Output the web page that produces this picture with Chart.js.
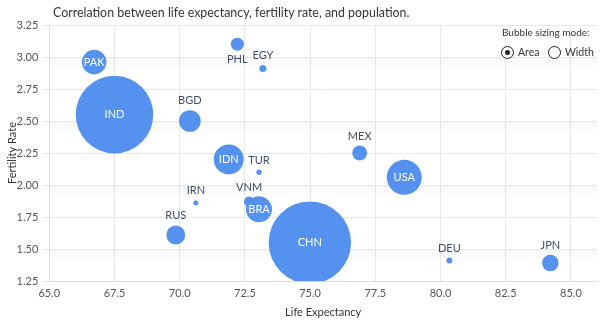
<!DOCTYPE html>
<html>
<head>
<meta charset="utf-8">
<script src="https://cdn.jsdelivr.net/npm/chart.js@4/dist/chart.umd.min.js"></script>
<style>
  html, body { margin: 0; padding: 0; background: #fff; }
  #wrap { position: relative; width: 604px; height: 324px; font-family: Lato, 'Noto Sans', sans-serif; color: #333; }
  #chart { position: absolute; left: 0; top: 0; }
  #title { position: absolute; left: 53px; top: 5px; font-size: 12.4px; white-space: nowrap; }
  #mode-caption { position: absolute; left: 502px; top: 26px; font-size: 10px; white-space: nowrap; }
  .opt { position: absolute; top: 45px; font-size: 10.5px; line-height: 15px; cursor: pointer; white-space: nowrap; }
  .opt .dot { display: inline-block; box-sizing: border-box; width: 13px; height: 13px; border: 1.5px solid #222;
              border-radius: 50%; vertical-align: -3px; margin-right: 4px; position: relative; background: #fff; }
  .opt.on .dot::after { content: ''; position: absolute; left: 2.5px; top: 2.5px; width: 5px; height: 5px;
                        border-radius: 50%; background: #222; }
  #opt-area { left: 501px; }
  #opt-width { left: 548px; }
</style>
</head>
<body>
<div id="wrap">
  <canvas id="chart" width="604" height="324"></canvas>
  <div id="title">Correlation between life expectancy, fertility rate, and population.</div>
  <div id="mode-caption">Bubble sizing mode:</div>
  <label class="opt on" id="opt-area" data-mode="area"><span class="dot"></span>Area</label>
  <label class="opt" id="opt-width" data-mode="width"><span class="dot"></span>Width</label>
</div>
<script>
// country codes, life expectancy (years), fertility rate (births per woman), population (millions)
const countries = ['PAK', 'IND', 'BGD', 'PHL', 'EGY', 'IDN', 'TUR', 'MEX', 'USA', 'IRN', 'VNM', 'BRA', 'RUS', 'CHN', 'DEU', 'JPN'];
const lifeExpectancy = [66.72, 67.5, 70.39, 72.21, 73.19, 71.88, 73.04, 76.9, 78.61, 70.62, 72.66, 73.04, 69.85, 74.99, 80.34, 84.21];
const fertilityRate = [2.96, 2.55, 2.5, 3.1, 2.91, 2.2, 2.1, 2.25, 2.06, 1.86, 1.87, 1.81, 1.61, 1.55, 1.41, 1.39];
const population = [192, 1240, 166, 108, 85, 249, 80.5, 118, 312, 80, 95, 206, 145, 1390, 82, 128];

// axis ranges
const xMin = 65, xMax = 86, xStep = 2.5;
const yMin = 1.25, yMax = 3.25, yStep = 0.25;
const shadedLines = [3.0, 2.5, 2.0, 1.5];

const minRadius = 2.5;
const maxRadius = 41.2;
const bubbleColor = '#5591ef';
const fontFamily = 'Lato';
let sizeMode = 'area';

function bubbleRadius(p) {
  const pMin = Math.min(...population);
  const pMax = Math.max(...population);
  const t = (p - pMin) / (pMax - pMin);
  if (sizeMode === 'area') {
    return Math.sqrt(minRadius * minRadius + t * (maxRadius * maxRadius - minRadius * minRadius));
  }
  return minRadius + t * (maxRadius - minRadius);
}

function buildPoints() {
  return countries.map((c, i) => ({
    x: lifeExpectancy[i],
    y: fertilityRate[i],
    r: bubbleRadius(population[i])
  }));
}

// soft shading under every other horizontal grid line
const gridShade = {
  id: 'gridShade',
  beforeDatasetsDraw(chart) {
    const { ctx, chartArea: a, scales: { y } } = chart;
    ctx.save();
    shadedLines.forEach(v => {
      const py = y.getPixelForValue(v);
      const g = ctx.createLinearGradient(0, py, 0, py + 12);
      g.addColorStop(0, 'rgba(0,0,0,0.035)');
      g.addColorStop(1, 'rgba(0,0,0,0)');
      ctx.fillStyle = g;
      ctx.fillRect(a.left, py + 1, a.right - a.left, 12);
    });
    ctx.restore();
  }
};

// country codes: inside big bubbles, above (or below near the top) small ones
const bubbleLabels = {
  id: 'bubbleLabels',
  afterDatasetsDraw(chart) {
    const ctx = chart.ctx;
    const top = chart.chartArea.top;
    const meta = chart.getDatasetMeta(0);
    ctx.save();
    ctx.font = '11px ' + fontFamily;
    ctx.textAlign = 'center';
    ctx.textBaseline = 'middle';
    meta.data.forEach((el, i) => {
      const r = el.options.radius;
      if (r >= 12) {
        ctx.fillStyle = '#ffffff';
        ctx.fillText(countries[i], el.x, el.y);
      } else {
        let ly = el.y - r - 9.5;
        if (ly - 6 < top) ly = el.y + r + 9;
        ctx.fillStyle = '#3f4c6b';
        ctx.fillText(countries[i], el.x, ly);
      }
    });
    ctx.restore();
  }
};

const chart = new Chart(document.getElementById('chart'), {
  type: 'bubble',
  data: {
    datasets: [{
      label: 'Countries',
      data: buildPoints(),
      backgroundColor: bubbleColor,
      borderWidth: 0,
      hoverBorderWidth: 0,
      clip: 0
    }]
  },
  options: {
    responsive: false,
    animation: false,
    layout: { autoPadding: false, padding: { top: 25, right: 7, left: 0, bottom: 0 } },
    plugins: {
      legend: { display: false },
      tooltip: {
        callbacks: {
          label: function(context) {
            const i = context.dataIndex;
            return `${countries[i]}: ${lifeExpectancy[i]} yrs, ${fertilityRate[i]}, ${population[i]}M`;
          }
        }
      }
    },
    scales: {
      x: {
        type: 'linear',
        min: xMin,
        max: xMax,
        afterBuildTicks: scale => {
          scale.ticks = scale.ticks.filter(t => Math.abs(t.value / xStep - Math.round(t.value / xStep)) < 1e-6);
        },
        afterFit: scale => { scale.height = 43; },
        grid: { color: '#e8e8e8', drawTicks: false },
        border: { color: '#dcdcdc' },
        ticks: {
          stepSize: xStep,
          padding: 6,
          color: '#555',
          font: { family: fontFamily, size: 11 },
          maxRotation: 0,
          callback: v => v.toFixed(1)
        },
        title: {
          display: true,
          text: 'Life Expectancy',
          color: '#333',
          font: { family: fontFamily, size: 11 },
          padding: { top: 6, bottom: 5 }
        }
      },
      y: {
        type: 'linear',
        min: yMin,
        max: yMax,
        afterFit: scale => { scale.width = 49.3; },
        grid: { color: '#e8e8e8', tickLength: 6 },
        border: { color: '#dcdcdc' },
        ticks: {
          stepSize: yStep,
          padding: 5,
          color: '#555',
          font: { family: fontFamily, size: 11 },
          callback: v => v.toFixed(2)
        },
        title: {
          display: true,
          text: 'Fertility Rate',
          color: '#333',
          font: { family: fontFamily, size: 11 },
          padding: { top: 6, bottom: 0 }
        }
      }
    }
  },
  plugins: [gridShade, bubbleLabels]
});

// switch between area- and width-proportional bubble sizes
document.querySelectorAll('.opt').forEach(opt => {
  opt.addEventListener('click', () => {
    sizeMode = opt.dataset.mode;
    document.querySelectorAll('.opt').forEach(o => o.classList.toggle('on', o === opt));
    chart.data.datasets[0].data = buildPoints();
    chart.update();
  });
});
</script>
</body>
</html>
